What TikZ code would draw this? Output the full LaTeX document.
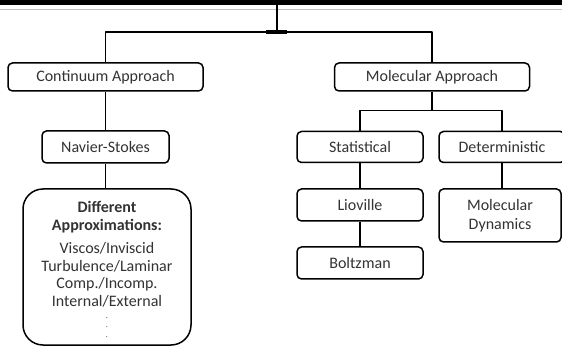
\documentclass[tikz,border=0pt]{standalone}
\usepackage{fontspec}
\setmainfont{Carlito}
\usetikzlibrary{positioning}

\newcommand\dotstack{\vbox{\fontsize{8}{8}\selectfont\baselineskip=9.5pt\hbox{.}\hbox{.}\hbox{.}}}

\begin{document}
\begin{tikzpicture}[x=1pt, y=-1pt, line join=round,
  font=\fontsize{16}{17.5}\selectfont, text=black!80,
  box/.style={draw, line width=1.5pt, rounded corners=4.5pt, fill=white, inner sep=0pt, align=center},
  link/.style={line width=1.7pt}]
  \useasboundingbox (0,0) rectangle (562,347);
  % header strip
  \fill (0,0) rectangle (562,5);
  \draw[black!25, line width=0.8pt] (0,9.5) -- (562,9.5);
  \coordinate (root) at (277,5);
  \coordinate (hub)  at (277,32);
  % level 1
  \node[box, minimum width=195, minimum height=28] (cont) at (105.5,77) {Continuum Approach};
  \node[box, minimum width=195, minimum height=28] (mol)  at (432,77)   {Molecular Approach};
  \draw[link] (root) -- (hub);
  \draw[link] (cont.north) |- (hub) -| (mol.north);
  \draw[line width=4.5pt] (266,32) -- (287,32);
  % continuum branch
  \node[box, minimum width=127, minimum height=32] (ns) at (105.5,147) {Navier-Stokes};
  \node[box, rounded corners=20pt, minimum width=168, minimum height=156] (apx) at (107,267)
    {\rule{0pt}{16pt}\textbf{Different}\\\textbf{Approximations:}\\[6pt]
     Viscos/Inviscid\\Turbulence/Laminar\\Comp./Incomp.\\Internal/External\\[9pt]
     \dotstack};
  \draw[link] (cont) -- (ns);
  \draw[link] (ns) -- (ns |- apx.north);
  % molecular branch
  \coordinate (mhub) at (432,110.5);
  \node[box, minimum width=126, minimum height=31] (stat) at (360,147) {Statistical};
  \node[box, minimum width=126, minimum height=31] (det)  at (502,147) {Deterministic};
  \node[box, minimum width=126, minimum height=32] (lio)  at (360,205) {Lioville};
  \node[box, minimum width=126, minimum height=32] (boltz) at (360,263) {Boltzman};
  \node[box, minimum width=122, minimum height=53] (md)   at (500,215.5) {Molecular\\[1pt]Dynamics};
  \draw[link] (mol) -- (mhub);
  \draw[link] (stat.north) |- (mhub) -| (det.north);
  \draw[link] (stat) -- (lio);
  \draw[link] (lio) -- (boltz);
  \draw[link] (det) -- (det |- md.north);
\end{tikzpicture}
\end{document}
